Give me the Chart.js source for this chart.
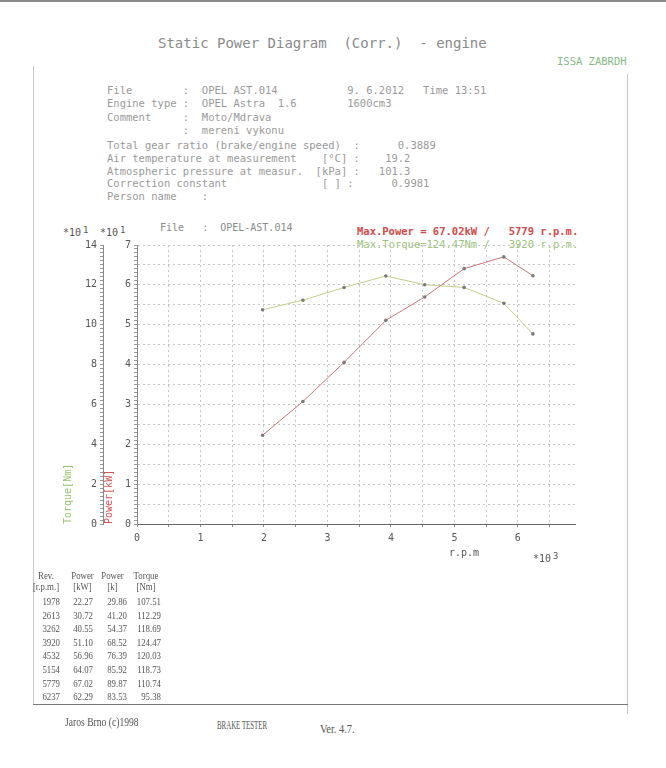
<!DOCTYPE html>
<html lang="en">
<head>
<meta charset="UTF-8">
<title>Static Power Diagram</title>
<script src="https://cdn.jsdelivr.net/npm/chart.js"></script>
<style>
    * { margin: 0; padding: 0; box-sizing: border-box; }
    body {
        width: 666px;
        height: 768px;
        position: relative;
        background: #fff;
        overflow: hidden;
        font-family: 'DejaVu Sans Mono', 'Liberation Mono', monospace;
    }
    .abs { position: absolute; white-space: pre; }
    .serif { font-family: 'Liberation Serif', 'DejaVu Serif', serif; color: #555; }
    .narrow { transform: scaleX(0.8); transform-origin: 0 0; }

    /* page frame from the scan */
    .topline { left: 0; top: 0; width: 666px; height: 2px; background: #8a8a8a; }
    .leftline { left: 33px; top: 66px; width: 1px; height: 639px; background: #c8c8c8; }
    .rightline { left: 627px; top: 74px; width: 1px; height: 640px; background: #c8c8c8; }
    .bottomline { left: 33px; top: 704px; width: 595px; height: 1px; background: #777; }

    .title { left: 158px; top: 35px; font-size: 14px; color: #8a8a8a; }
    .issa { left: 557px; top: 55px; font-size: 10.5px; color: #86b986; }
    .info { left: 107px; font-size: 10.5px; color: #9a9a9a; }

    .mult { font-size: 10px; color: #555; }
    .mult sup { font-size: 9px; position: relative; top: 1px; margin-left: 2px; }
    .fileLbl { left: 160px; top: 222px; font-size: 10px; color: #8a8a8a; }
    .maxP { left: 357px; top: 225px; font-size: 10.5px; color: #d24a4a; font-weight: bold; }
    .maxT { left: 357px; top: 238px; font-size: 10.5px; color: #9cc27c; }

    #chartBox { position: absolute; left: 40px; top: 236px; width: 570px; height: 320px; }

    #table { position: absolute; left: 0; top: 0; width: 250px; height: 768px; }
    .col { position: absolute; font-size: 11px; line-height: 13.6px; text-align: right; }
    .hdr { position: absolute; font-size: 11px; line-height: 11px; text-align: center; }
</style>
</head>
<body>
    <div class="abs topline"></div>
    <div class="abs leftline"></div>
    <div class="abs rightline"></div>
    <div class="abs bottomline"></div>

    <div class="abs title">Static Power Diagram  (Corr.)  - engine</div>
    <div class="abs issa">ISSA ZABRDH</div>

    <div class="abs info" style="top:84px; line-height:13.3px;">File        :  OPEL AST.014           9. 6.2012   Time 13:51
Engine type :  OPEL Astra  1.6        1600cm3
Comment     :  Moto/Mdrava
            :  mereni vykonu</div>
    <div class="abs info" style="top:139px; line-height:12.8px;">Total gear ratio (brake/engine speed)  :      0.3889
Air temperature at measurement    [°C] :    19.2
Atmospheric pressure at measur.  [kPa] :   101.3
Correction constant               [ ] :      0.9981
Person name    :</div>

    <div class="abs mult" style="left:63px; top:224px;">*10<sup>1</sup></div>
    <div class="abs mult" style="left:100px; top:224px;">*10<sup>1</sup></div>
    <div class="abs fileLbl">File   :  OPEL-AST.014</div>
    <div class="abs maxP" id="maxP"></div>
    <div class="abs maxT" id="maxT"></div>

    <div id="chartBox"><canvas id="powerChart" width="570" height="320"></canvas></div>

    <div class="abs mult" style="left:449px; top:547px;">r.p.m</div>
    <div class="abs mult" style="left:533px; top:550px;">*10<sup>3</sup></div>

    <div id="table" class="narrow"></div>

    <div class="abs serif narrow" style="left:65px; top:715px; font-size:12px;">Jaros Brno (c)1998</div>
    <div class="abs serif" style="left:217px; top:718px; font-size:12.5px; transform:scaleX(0.55); transform-origin:0 0;">BRAKE TESTER</div>
    <div class="abs serif narrow" style="left:320px; top:721px; font-size:13px;">Ver. 4.7.</div>

<script>
const rpm = [1978, 2613, 3262, 3920, 4532, 5154, 5779, 6237];
const powerKw = [22.27, 30.72, 40.55, 51.10, 56.96, 64.07, 67.02, 62.29];
const powerHp = [29.86, 41.20, 54.37, 68.52, 76.39, 85.92, 89.87, 83.53];
const torqueNm = [107.51, 112.29, 118.69, 124.47, 120.03, 118.73, 110.74, 95.38];

// axis ranges (raw units; labels are shown *10^1 and *10^3)
const rpmMax = 6900;
const powerMax = 70;
const torqueMax = 140;

// max lines above the plot
const iP = powerKw.indexOf(Math.max(...powerKw));
const iT = torqueNm.indexOf(Math.max(...torqueNm));
document.getElementById('maxP').textContent =
    'Max.Power = ' + powerKw[iP].toFixed(2) + 'kW /   ' + rpm[iP] + ' r.p.m.';
document.getElementById('maxT').textContent =
    'Max.Torque=' + torqueNm[iT].toFixed(2) + 'Nm /   ' + rpm[iT] + ' r.p.m.';

// table under the chart (container is squeezed to 0.8 width, so x is divided by 0.8)
function column(left, right, top, lines, cls) {
    const d = document.createElement('div');
    d.className = 'serif ' + cls;
    d.style.left = (left / 0.8) + 'px';
    d.style.width = ((right - left) / 0.8) + 'px';
    d.style.top = top + 'px';
    d.innerHTML = lines.join('<br>');
    document.getElementById('table').appendChild(d);
}
column(38, 54, 570, ['Rev.'], 'hdr');
column(25, 67, 581, ['[r.p.m.]'], 'hdr');
column(71, 94, 570, ['Power', '[kW]'], 'hdr');
column(101, 124, 570, ['Power', '[k]'], 'hdr');
column(133, 159, 570, ['Torque', '[Nm]'], 'hdr');
column(30, 60, 595, rpm.map(String), 'col');
column(62, 93, 595, powerKw.map(v => v.toFixed(2)), 'col');
column(96, 127, 595, powerHp.map(v => v.toFixed(2)), 'col');
column(128, 161, 595, torqueNm.map(v => v.toFixed(2)), 'col');

const tickFont = { family: "'DejaVu Sans Mono', monospace", size: 10 };

const ctx = document.getElementById('powerChart').getContext('2d');
const powerChart = new Chart(ctx, {
    type: 'line',
    data: {
        datasets: [{
            label: 'Power',
            data: rpm.map((r, i) => ({ x: r, y: powerKw[i] })),
            yAxisID: 'yP',
            borderColor: '#c97474',
            borderWidth: 1,
            pointRadius: 1.8,
            pointBackgroundColor: '#7a7a7a',
            pointBorderWidth: 0,
            tension: 0
        }, {
            label: 'Torque',
            data: rpm.map((r, i) => ({ x: r, y: torqueNm[i] })),
            yAxisID: 'yT',
            borderColor: '#c6cc84',
            borderWidth: 1,
            pointRadius: 1.8,
            pointBackgroundColor: '#7a7a7a',
            pointBorderWidth: 0,
            tension: 0
        }]
    },
    options: {
        responsive: false,
        animation: false,
        layout: { padding: { top: 8, right: 35, left: 0, bottom: 0 } },
        plugins: { legend: { display: false }, tooltip: { enabled: false } },
        scales: {
            x: {
                type: 'linear',
                min: 0,
                max: rpmMax,
                afterFit: s => { s.height = 32; },
                ticks: {
                    stepSize: 100,
                    maxTicksLimit: 200,
                    autoSkip: false,
                    maxRotation: 0,
                    padding: 5,
                    color: '#555',
                    font: tickFont,
                    callback: v => v % 1000 === 0 ? String(v / 1000) : ''
                },
                grid: {
                    color: c => c.tick && c.tick.value % 500 === 0 && c.tick.value > 0 ? '#c6c6c6' : 'transparent',
                    tickColor: c => c.tick && c.tick.value % 500 === 0 ? '#888' : 'transparent',
                    tickLength: 3
                },
                border: { color: '#666', dash: [2, 3] }
            },
            yP: {
                type: 'linear',
                position: 'left',
                weight: 0,
                min: 0,
                max: powerMax,
                afterFit: s => { s.width = 34; },
                ticks: {
                    stepSize: 1,
                    maxTicksLimit: 100,
                    autoSkip: false,
                    color: '#555',
                    font: tickFont,
                    padding: 3,
                    callback: v => v % 10 === 0 ? String(v / 10) : ''
                },
                grid: {
                    color: c => c.tick && c.tick.value % 5 === 0 && c.tick.value > 0 ? '#c6c6c6' : 'transparent',
                    tickColor: '#999',
                    tickLength: 3
                },
                border: { color: '#888', dash: [2, 3] },
                title: {
                    display: true,
                    text: 'Power[kW]',
                    align: 'start',
                    color: '#d45454',
                    font: { family: "'DejaVu Sans Mono', monospace", size: 10 },
                    padding: { top: 0, bottom: 0 }
                }
            },
            yT: {
                type: 'linear',
                position: 'left',
                weight: 1,
                min: 0,
                max: torqueMax,
                afterFit: s => { s.width = 63; },
                ticks: {
                    stepSize: 2,
                    maxTicksLimit: 100,
                    autoSkip: false,
                    color: '#555',
                    font: tickFont,
                    padding: 3,
                    callback: v => v % 20 === 0 ? String(v / 10) : ''
                },
                grid: {
                    drawOnChartArea: false,
                    tickColor: '#999',
                    tickLength: 3
                },
                border: { color: '#888' },
                title: {
                    display: true,
                    text: 'Torque[Nm]',
                    align: 'start',
                    color: '#96c46e',
                    font: { family: "'DejaVu Sans Mono', monospace", size: 10 },
                    padding: { top: 22, bottom: 0 }
                }
            }
        }
    }
});
</script>
</body>
</html>
